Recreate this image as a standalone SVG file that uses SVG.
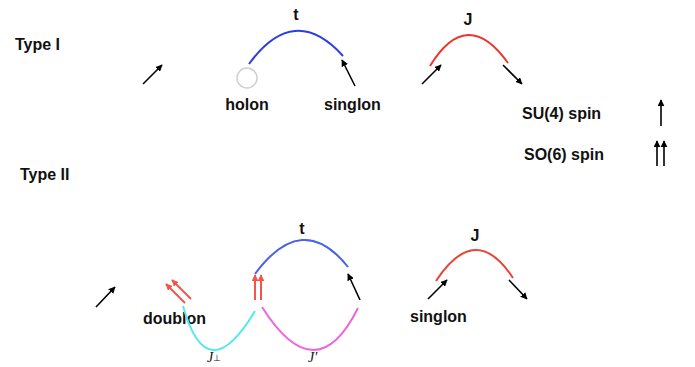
<svg xmlns="http://www.w3.org/2000/svg" width="695" height="367" viewBox="0 0 695 367">
<defs>
<marker id="ah" viewBox="0 0 10 10" refX="9" refY="5" markerWidth="7" markerHeight="7" markerUnits="userSpaceOnUse" orient="auto"><path d="M0,0 L10,5 L0,10 z" fill="#000"/></marker>
<marker id="ahr" viewBox="0 0 10 10" refX="9" refY="5" markerWidth="7" markerHeight="7" markerUnits="userSpaceOnUse" orient="auto"><path d="M0,0 L10,5 L0,10 z" fill="#f0564a"/></marker>
<style>
.lbl{font-family:"Liberation Sans",Arial,sans-serif;font-weight:bold;font-size:16px;fill:#111}
.ital{font-family:"Liberation Serif","Times New Roman",serif;font-style:italic;font-size:14px;fill:#111}
.arr{stroke:#000;stroke-width:1.6;fill:none;marker-end:url(#ah)}
.rarr{stroke:#f0564a;stroke-width:2;fill:none;marker-end:url(#ahr)}
.arc{fill:none;stroke-width:2}
</style>
</defs>
<rect width="695" height="367" fill="#fff"/>
<g id="labels">
<text class="lbl" x="15" y="50">Type I</text>
<text class="lbl" x="20" y="180">Type II</text>
<text class="lbl" x="522" y="119">SU(4) spin</text>
<text class="lbl" x="524" y="160">SO(6) spin</text>
</g>
<g id="holon">
<circle cx="247" cy="78" r="10" fill="none" stroke="#cfcfcf" stroke-width="1.5"/>
<text class="lbl" x="247" y="110" text-anchor="middle">holon</text>
</g>
<g id="singlon1">
<text class="lbl" x="324" y="110">singlon</text>
</g>
<g id="doublon">
<text class="lbl" x="143" y="324">doublon</text>
</g>
<g id="singlon2">
<text class="lbl" x="410" y="322">singlon</text>
</g>
<g id="connectors">
<path class="arc" stroke="#2b3fe0" d="M249,64 Q294,2 343,56"/>
<text class="lbl" x="296" y="20" text-anchor="middle">t</text>
<path class="arc" stroke="#e8372e" d="M430,66 Q467,5.5 508,63"/>
<text class="lbl" x="468" y="25" text-anchor="middle">J</text>
<line class="arr" x1="143" y1="84" x2="162" y2="65"/>
<line class="arr" x1="355" y1="86" x2="342" y2="60"/>
<line class="arr" x1="422" y1="84" x2="441" y2="65"/>
<line class="arr" x1="503" y1="65" x2="522" y2="84"/>
<line class="arr" x1="661" y1="126" x2="661" y2="100"/>
<line class="arr" x1="657" y1="166" x2="657" y2="141"/>
<line class="arr" x1="664" y1="166" x2="664" y2="141"/>

<path class="arc" stroke="#4a62e6" d="M255,274 Q302.5,209.5 348,267"/>
<text class="lbl" x="302" y="234" text-anchor="middle">t</text>
<path class="arc" stroke="#56e8ea" d="M183,306 Q207,391.5 255,311"/>
<path class="arc" stroke="#ee66dd" d="M262,307 Q316,392.5 358,308"/>
<path class="arc" stroke="#e8443a" d="M436,281 Q475.5,220.5 513,278"/>
<text class="lbl" x="475" y="241" text-anchor="middle">J</text>
<line class="arr" x1="96" y1="307" x2="115" y2="287"/>
<line class="rarr" x1="185" y1="303" x2="166" y2="284"/>
<line class="rarr" x1="191" y1="299" x2="172" y2="280"/>
<line class="rarr" x1="255" y1="300" x2="255" y2="275"/>
<line class="rarr" x1="261" y1="300" x2="261" y2="275"/>
<line class="arr" x1="360" y1="300" x2="348" y2="274"/>
<line class="arr" x1="428" y1="299" x2="447" y2="280"/>
<line class="arr" x1="509" y1="280" x2="527" y2="299"/>
<text class="ital" x="207" y="362">J<tspan font-size="9" dy="-1" font-style="normal">⊥</tspan></text>
<text class="ital" x="308" y="362">J′</text>
</g>
</svg>
